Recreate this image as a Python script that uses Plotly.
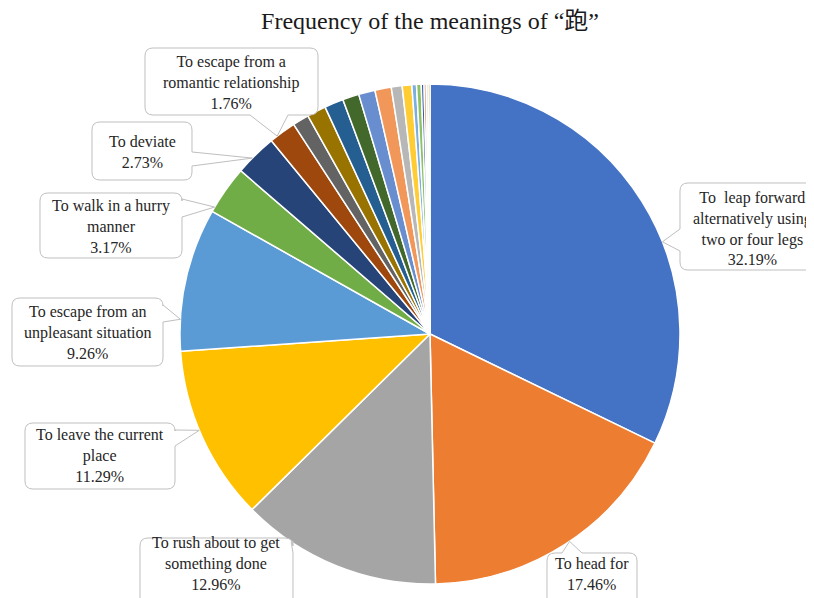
import math
import plotly.graph_objects as go

W, H = 814, 598
OFF = 8  # the page body adds an 8px margin; pixel targets are shifted back by it

# ---------------- data ----------------
meanings = [
    "To leap forward alternatively using two or four legs",
    "To head for",
    "To rush about to get something done",
    "To leave the current place",
    "To escape from an unpleasant situation",
    "To walk in a hurry manner",
    "To deviate",
    "To escape from a romantic relationship",
    "Meaning 9", "Meaning 10", "Meaning 11", "Meaning 12", "Meaning 13",
    "Meaning 14", "Meaning 15", "Meaning 16", "Meaning 17", "Meaning 18",
    "Meaning 19", "Meaning 20", "Meaning 21", "Meaning 22",
]
percent = [32.19, 17.46, 12.96, 11.29, 9.26, 3.17, 2.73, 1.76,
           1.06, 1.23, 1.23, 1.06, 1.06, 1.06, 0.70, 0.62,
           0.30, 0.30, 0.18, 0.14, 0.12, 0.12]
slice_colors = ["#4472C4", "#ED7D31", "#A5A5A5", "#FFC000", "#5B9BD5", "#70AD47",
                "#264478", "#9E480E", "#636363", "#997300", "#255E91", "#43682B",
                "#698ED0", "#F1975A", "#B7B7B7", "#FFCD33", "#7CAFDD", "#8CC168",
                "#335AA1", "#C55A11", "#848484", "#BF9000"]

callout_lines = {
    0: ["To  leap forward", "alternatively using", "two or four legs"],
    1: ["To head for"],
    2: ["To rush about to get", "something done"],
    3: ["To leave the current", "place"],
    4: ["To escape from an", "unpleasant situation"],
    5: ["To walk in a hurry", "manner"],
    6: ["To deviate"],
    7: ["To escape from a", "romantic relationship"],
}

# ---------------- layout geometry (window pixels) ----------------
CX, CY, R = 430, 334, 250

callout_layout = {
    0: dict(box=(680, 183, 840, 270), side="left", base=(229, 251), frac=0.59, tc=(752, 229)),
    1: dict(box=(547, 553, 637, 630), side="top", base=(562, 582), frac=0.48, tc=(592, 574)),
    2: dict(box=(140, 538, 293, 630), side="right", base=(541, 553), frac=0.75, tc=(216, 563)),
    3: dict(box=(25, 423, 175, 489), side="right", base=(430, 446), frac=0.54, tc=(100, 456)),
    4: dict(box=(12, 298, 163, 366), side="right", base=(305, 322), frac=0.22, tc=(88, 332)),
    5: dict(box=(40, 193, 182, 258), side="right", base=(199, 217), frac=0.10, tc=(111, 226)),
    6: dict(box=(92, 122, 192, 180), side="right", base=(152, 166), frac=0.40, tc=(142, 152)),
    7: dict(box=(145, 48, 318, 115), side="bottom", base=(250, 288), frac=0.27, tc=(231, 82)),
}


def px(x, y):
    return (x - OFF) / W, 1 - (y - OFF) / H


def fmt(x, y):
    a, b = px(x, y)
    return f"{a:.5f},{b:.5f}"


def callout_path(box, side, base, tip, rr=8):
    x0, y0, x1, y1 = box
    b0, b1 = base
    p = [f"M{fmt(x0 + rr, y0)}"]
    if side == "top":
        p += [f"L{fmt(b0, y0)}", f"L{fmt(*tip)}", f"L{fmt(b1, y0)}"]
    p += [f"L{fmt(x1 - rr, y0)}", f"Q{fmt(x1, y0)} {fmt(x1, y0 + rr)}"]
    if side == "right":
        p += [f"L{fmt(x1, b0)}", f"L{fmt(*tip)}", f"L{fmt(x1, b1)}"]
    p += [f"L{fmt(x1, y1 - rr)}", f"Q{fmt(x1, y1)} {fmt(x1 - rr, y1)}"]
    if side == "bottom":
        p += [f"L{fmt(b1, y1)}", f"L{fmt(*tip)}", f"L{fmt(b0, y1)}"]
    p += [f"L{fmt(x0 + rr, y1)}", f"Q{fmt(x0, y1)} {fmt(x0, y1 - rr)}"]
    if side == "left":
        p += [f"L{fmt(x0, b1)}", f"L{fmt(*tip)}", f"L{fmt(x0, b0)}"]
    p += [f"L{fmt(x0, y0 + rr)}", f"Q{fmt(x0, y0)} {fmt(x0 + rr, y0)}", "Z"]
    return " ".join(p)


total = sum(percent)
starts = []
acc = 0.0
for v in percent:
    starts.append(acc)
    acc += v

dx0, dy1 = px(CX - R, CY + R)
dx1, dy0 = px(CX + R, CY - R)

fig = go.Figure()
fig.add_trace(go.Pie(
    labels=meanings,
    values=percent,
    sort=False,
    direction="clockwise",
    rotation=0,
    textinfo="none",
    marker=dict(colors=slice_colors, line=dict(color="white", width=1.5)),
    domain=dict(x=[dx0, dx1], y=[dy1, dy0]),
    showlegend=False,
    hoverinfo="label+percent",
))

shapes = []
annotations = []
for idx, lines in callout_lines.items():
    cfg = callout_layout[idx]
    ang = (starts[idx] + cfg["frac"] * percent[idx]) / total * 2 * math.pi
    tip = (CX + R * math.sin(ang), CY - R * math.cos(ang))
    shapes.append(dict(
        type="path", xref="paper", yref="paper",
        path=callout_path(cfg["box"], cfg["side"], cfg["base"], tip),
        fillcolor="white", line=dict(color="#BFBFBF", width=1),
    ))
    tx, ty = px(*cfg["tc"])
    annotations.append(dict(
        xref="paper", yref="paper", x=tx, y=ty, xanchor="center", yanchor="middle",
        showarrow=False, align="center",
        text="<br>".join(lines + [f"{percent[idx]:.2f}%"]),
        font=dict(family="Liberation Serif, serif", size=16, color="#262626"),
    ))

tx, ty = px(430, 21)
fig.update_layout(
    width=W, height=H,
    margin=dict(l=0, r=0, t=0, b=0),
    paper_bgcolor="white", plot_bgcolor="white",
    title=dict(
        text="Frequency of the meanings of “跑”",
        x=tx, xanchor="center", y=ty, yanchor="middle",
        font=dict(family="Liberation Serif, Noto Sans CJK SC, serif", size=24, color="#1a1a1a"),
    ),
    shapes=shapes,
    annotations=annotations,
)

fig.write_html("out.html")
